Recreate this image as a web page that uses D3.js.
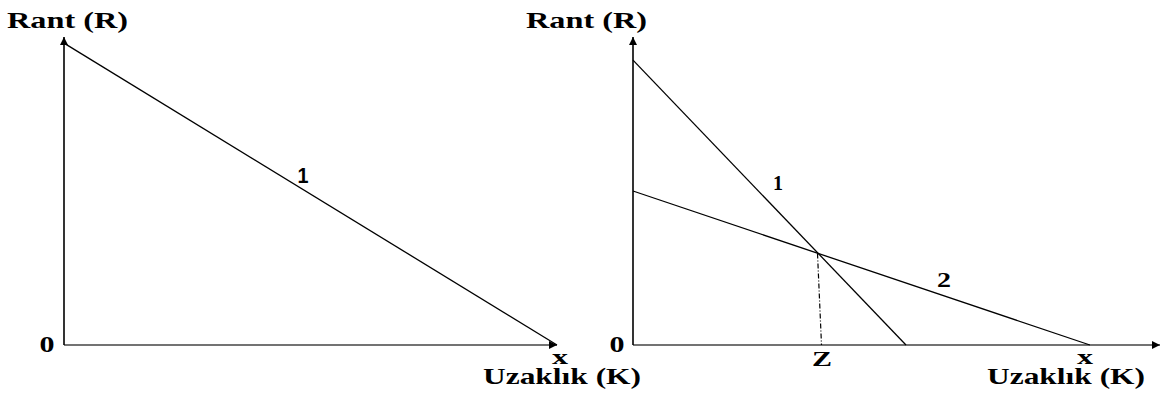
<!DOCTYPE html>
<html>
<head>
<meta charset="utf-8">
<script src="https://cdn.jsdelivr.net/npm/d3@7"></script>
<style>
  html, body { margin: 0; padding: 0; background: #fff; }
  svg { display: block; }
</style>
</head>
<body>
<svg id="chart" width="1170" height="396"></svg>
<script>
// ---------- data (abstract units: K = distance, R = rent) ----------
const domainK = [0, 10];
const domainR = [0, 10];
const leftLine1 = [[0, 9.8], [10, 0]];
const rightLine1 = [[0, 9.25], [5.18, 0]];
const rightLine2 = [[0, 5.0], [8.67, 0]];
const zPoint = [3.52, 2.97];
const yTitle = "Rant (R)";
const xTitle = "Uzaklık (K)";
const originLabel = "0";
const xEndLabel = "x";
const zLabel = "Z";
const lineLabels = ["1", "2"];

// ---------- layout ----------
const svg = d3.select("#chart");
const serif = "'Liberation Serif', 'Times New Roman', serif";
const sans = "'Liberation Sans', Arial, sans-serif";

const defs = svg.append("defs");
defs.append("marker")
  .attr("id", "arrow")
  .attr("viewBox", "0 0 10 10")
  .attr("refX", 10).attr("refY", 5)
  .attr("markerWidth", 10).attr("markerHeight", 8)
  .attr("markerUnits", "userSpaceOnUse")
  .attr("orient", "auto")
  .append("path").attr("d", "M0,0 L10,5 L0,10 Z").attr("fill", "#000");

function makePanel(x0, x1) {
  const x = d3.scaleLinear().domain(domainK).range([x0, x1]);
  const y = d3.scaleLinear().domain(domainR).range([345, 37]);
  return { x, y };
}

function drawAxes(p, xArrowEnd) {
  const g = svg.append("g");
  g.append("line")
    .attr("x1", p.x(0)).attr("y1", p.y(0))
    .attr("x2", xArrowEnd).attr("y2", p.y(0))
    .attr("stroke", "#444").attr("stroke-width", 1.6)
    .attr("marker-end", "url(#arrow)");
  g.append("line")
    .attr("x1", p.x(0)).attr("y1", p.y(0))
    .attr("x2", p.x(0)).attr("y2", p.y(10))
    .attr("stroke", "#000").attr("stroke-width", 1.6)
    .attr("marker-end", "url(#arrow)");
}

function drawLine(p, pts) {
  const line = d3.line().x(d => p.x(d[0])).y(d => p.y(d[1]));
  svg.append("path").datum(pts)
    .attr("d", line)
    .attr("fill", "none")
    .attr("stroke", "#000")
    .attr("stroke-width", 1.3);
}

function label(txt, cx, baseline, width, size, family) {
  svg.append("text")
    .attr("x", cx).attr("y", baseline)
    .attr("text-anchor", "middle")
    .attr("font-family", family || serif)
    .attr("font-weight", "bold")
    .attr("font-size", size)
    .attr("textLength", width)
    .attr("lengthAdjust", "spacingAndGlyphs")
    .attr("fill", "#000")
    .text(txt);
}

// ---------- left panel ----------
const L = makePanel(64, 557);
drawAxes(L, L.x(10));
drawLine(L, leftLine1);
label(yTitle, 67.5, 28, 121, 23);
label(originLabel, 47, 352, 15, 23);
label(xEndLabel, 560, 364, 16, 22);
label(xTitle, 562, 384, 158, 23);
label(lineLabels[0], 303, 183, 11, 22, sans);

// ---------- right panel ----------
const R = makePanel(633, 1160);
drawAxes(R, R.x(10));
drawLine(R, rightLine1);
drawLine(R, rightLine2);
svg.append("line")
  .attr("x1", R.x(zPoint[0]) - 1).attr("y1", R.y(zPoint[1]))
  .attr("x2", R.x(zPoint[0]) + 3).attr("y2", R.y(0))
  .attr("stroke", "#000").attr("stroke-width", 1.2)
  .attr("stroke-dasharray", "5,2,1,2");
label(yTitle, 586.5, 28, 121, 23);
label(originLabel, 617, 352, 15, 23);
label(zLabel, 822, 366, 20, 22);
label(xEndLabel, 1085, 364, 16, 22);
label(xTitle, 1066, 384, 158, 23);
label(lineLabels[0], 778, 190, 10, 20);
label(lineLabels[1], 944, 287, 14, 21);
</script>
</body>
</html>
